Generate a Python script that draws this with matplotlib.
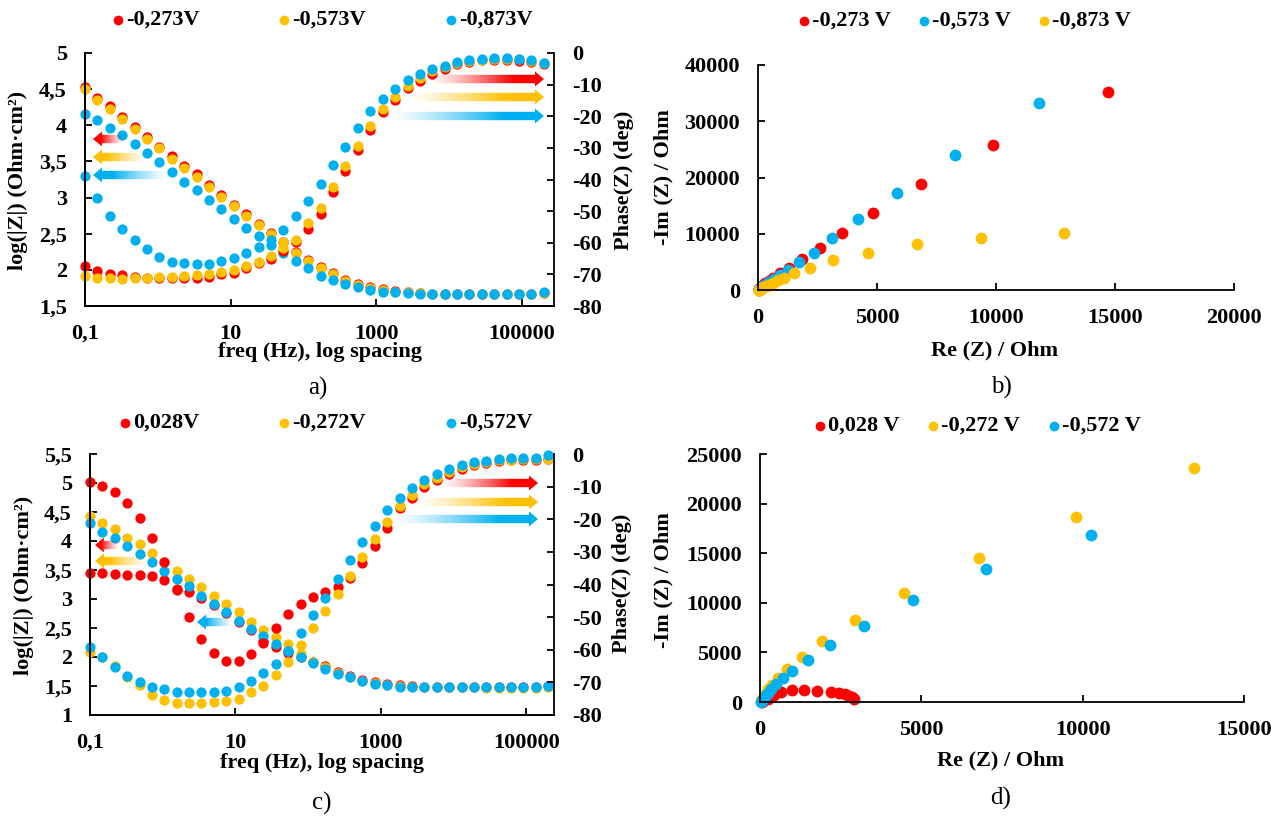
import numpy as np
import matplotlib
matplotlib.use('Agg')
import matplotlib.pyplot as plt
from matplotlib.patches import Polygon
from matplotlib.colors import to_rgb
from matplotlib.ticker import FuncFormatter, NullLocator

plt.rcParams['font.family'] = ['Liberation Serif', 'DejaVu Serif']
plt.rcParams['font.weight'] = 'bold'
plt.rcParams['axes.unicode_minus'] = False
plt.rcParams['axes.linewidth'] = 1.3

W, H = 1274, 819
RED, GOLD, BLUE = '#FF0000', '#FFC000', '#00B0F0'

# ---- data ----
freq = [0.1, 0.148, 0.219, 0.324, 0.480, 0.710, 1.05, 1.56, 2.30, 3.41, 5.05, 7.47,
        11.1, 16.4, 24.2, 35.9, 53.1, 78.6, 116, 172, 255, 377, 558, 826, 1220, 1810,
        2680, 3970, 5870, 8690, 12900, 19000, 28200, 41700, 61700, 91300, 135000, 200000]
freq_ticks = [0.1, 10, 1000, 100000]
freq_tick_text = ['0,1', '10', '1000', '100000']

# panel a
labels_a = ['-0,273V', '-0,573V', '-0,873V']
logz_a_273 = [4.53, 4.38, 4.26, 4.12, 3.97, 3.84, 3.70, 3.57, 3.44, 3.32, 3.18, 3.04, 2.90,
              2.77, 2.64, 2.51, 2.39, 2.25, 2.13, 2.04, 1.95, 1.86, 1.80, 1.76, 1.73, 1.71,
              1.69, 1.68, 1.67, 1.67, 1.66, 1.66, 1.66, 1.66, 1.66, 1.66, 1.67, 1.68]
logz_a_573 = [4.50, 4.35, 4.23, 4.09, 3.95, 3.81, 3.68, 3.54, 3.41, 3.29, 3.15, 3.01, 2.88,
              2.75, 2.62, 2.50, 2.38, 2.23, 2.12, 2.03, 1.94, 1.85, 1.79, 1.75, 1.72, 1.70,
              1.69, 1.68, 1.67, 1.66, 1.66, 1.66, 1.66, 1.66, 1.66, 1.66, 1.67, 1.68]
logz_a_873 = [4.16, 4.07, 3.96, 3.86, 3.74, 3.61, 3.49, 3.36, 3.22, 3.10, 2.97, 2.84, 2.71,
              2.58, 2.47, 2.35, 2.24, 2.12, 2.02, 1.92, 1.86, 1.80, 1.76, 1.72, 1.70, 1.69,
              1.68, 1.67, 1.67, 1.67, 1.66, 1.66, 1.66, 1.66, 1.66, 1.66, 1.67, 1.69]
phase_a_273 = [-67.2, -68.8, -69.9, -70.2, -70.9, -71.1, -71.1, -71.1, -71.1, -71.2, -70.9,
               -69.9, -69.5, -67.9, -66.5, -65.2, -62.5, -59.8, -55.5, -50.8, -44.0, -37.4,
               -30.8, -24.2, -18.8, -14.8, -11.2, -8.8, -6.6, -5.2, -3.6, -2.8, -2.3, -2.1,
               -2.1, -2.5, -2.9, -3.4]
phase_a_573 = [-70.4, -71.1, -71.2, -71.5, -71.1, -71.1, -70.9, -70.9, -70.6, -70.3, -69.9,
               -69.3, -68.6, -67.4, -66.1, -64.2, -61.8, -59.2, -53.8, -49.0, -42.3, -35.8,
               -29.4, -23.0, -17.6, -13.8, -10.3, -7.9, -5.8, -4.5, -3.3, -2.6, -2.1, -1.9,
               -1.9, -2.0, -2.5, -3.3]
phase_a_873 = [-38.9, -45.7, -51.4, -55.8, -59.2, -61.9, -64.5, -66.1, -66.5, -66.7, -66.7,
               -65.8, -64.9, -63.3, -61.5, -59.0, -56.0, -51.6, -46.9, -41.4, -35.3, -29.6,
               -23.8, -18.3, -14.6, -11.4, -8.4, -6.5, -5.0, -4.0, -3.0, -2.3, -1.9, -1.7,
               -1.7, -1.8, -2.3, -3.3]

# panel c
labels_c = ['0,028V', '-0,272V', '-0,572V']
logz_c_028 = [3.44, 3.44, 3.43, 3.42, 3.41, 3.40, 3.32, 3.17, 3.12, 3.02, 2.90, 2.76, 2.61,
              2.46, 2.28, 2.17, 2.07, 2.00, 1.92, 1.84, 1.75, 1.68, 1.61, 1.57, 1.53, 1.51,
              1.50, 1.49, 1.48, 1.48, 1.48, 1.48, 1.48, 1.48, 1.48, 1.48, 1.48, 1.50]
logz_c_272 = [4.43, 4.31, 4.20, 4.06, 3.94, 3.79, 3.64, 3.49, 3.35, 3.20, 3.06, 2.91, 2.77,
              2.61, 2.47, 2.35, 2.22, 2.05, 1.92, 1.82, 1.72, 1.66, 1.59, 1.55, 1.52, 1.50,
              1.49, 1.48, 1.48, 1.48, 1.48, 1.48, 1.47, 1.47, 1.47, 1.47, 1.47, 1.49]
logz_c_572 = [4.31, 4.16, 4.05, 3.91, 3.77, 3.64, 3.49, 3.35, 3.22, 3.06, 2.92, 2.77, 2.62,
              2.49, 2.37, 2.23, 2.10, 2.00, 1.89, 1.80, 1.71, 1.65, 1.58, 1.54, 1.51, 1.49,
              1.48, 1.48, 1.48, 1.48, 1.48, 1.48, 1.48, 1.48, 1.48, 1.48, 1.48, 1.50]
phase_c_028 = [-8.7, -9.7, -11.8, -15.0, -19.5, -25.7, -33.0, -41.6, -50.0, -56.7, -61.0,
               -63.5, -63.5, -61.4, -57.8, -53.4, -49.1, -46.0, -43.9, -42.4, -40.8, -37.9,
               -33.3, -28.1, -22.6, -16.7, -13.6, -10.0, -8.0, -6.0, -4.6, -3.5, -2.7, -2.1,
               -1.8, -1.7, -1.7, -1.4]
phase_c_272 = [-60.6, -62.2, -65.1, -68.4, -70.8, -73.9, -75.4, -76.4, -76.4, -76.4, -75.9,
               -75.7, -75.0, -73.1, -71.1, -67.7, -63.8, -58.6, -53.4, -48.1, -42.9, -37.4,
               -31.7, -26.0, -20.9, -16.0, -12.6, -9.2, -7.4, -5.4, -4.1, -3.1, -2.4, -1.9,
               -1.7, -1.6, -1.6, -1.6]
phase_c_572 = [-59.2, -62.2, -65.3, -68.1, -69.8, -71.5, -72.0, -72.9, -72.9, -72.9, -72.9,
               -72.6, -71.5, -69.5, -67.2, -64.3, -60.5, -55.0, -49.5, -44.1, -38.2, -32.5,
               -27.1, -22.2, -17.3, -13.6, -10.5, -8.0, -6.1, -4.7, -3.5, -2.6, -2.0, -1.5,
               -1.3, -1.2, -1.2, -0.3]

# panel b (Nyquist)
labels_b = ['-0,273 V', '-0,573 V', '-0,873 V']
re_b_273 = [14700, 9880, 6850, 4840, 3540, 2610, 1860, 1290, 930, 650, 450, 310, 210, 140,
            95, 70, 55, 48, 45]
im_b_273 = [35200, 25800, 18900, 13700, 10100, 7500, 5450, 3980, 2940, 2200, 1620, 1170,
            830, 570, 380, 240, 150, 90, 50]
re_b_573 = [11800, 8260, 5840, 4220, 3120, 2340, 1740, 1270, 920, 660, 470, 330, 230, 160,
            110, 80, 60, 50, 45]
im_b_573 = [33200, 24000, 17200, 12600, 9200, 6600, 4950, 3600, 2700, 1980, 1440, 1030,
            720, 500, 330, 210, 130, 75, 40]
re_b_873 = [12840, 9370, 6670, 4620, 3150, 2190, 1500, 1100, 820, 620, 450, 320, 230, 160,
            110, 80, 60, 50, 45]
im_b_873 = [10180, 9240, 8120, 6650, 5250, 3860, 2940, 2200, 1700, 1300, 950, 680, 480,
            330, 220, 140, 85, 50, 25]

# panel d (Nyquist)
labels_d = ['0,028 V', '-0,272 V', '-0,572 V']
re_d_028 = [60, 100, 250, 420, 650, 980, 1370, 1770, 2200, 2440, 2620, 2760, 2860, 2900]
im_d_028 = [30, 80, 350, 700, 1050, 1180, 1200, 1120, 1000, 880, 780, 640, 480, 350]
re_d_272 = [13460, 9800, 6780, 4470, 2930, 1930, 1290, 840, 560, 380, 260, 180, 120, 85,
            60, 50, 45, 42]
im_d_272 = [23590, 18630, 14490, 10980, 8280, 6110, 4530, 3300, 2400, 1750, 1270, 900,
            630, 430, 280, 170, 100, 50]
re_d_572 = [10250, 7000, 4740, 3210, 2180, 1480, 990, 700, 500, 350, 240, 165, 110, 80,
            60, 50, 45]
im_d_572 = [16850, 13380, 10330, 7680, 5740, 4250, 3150, 2380, 1780, 1300, 930, 650, 440,
            290, 180, 100, 50]

fig = plt.figure(figsize=(W / 100, H / 100), dpi=100)
# overlay in pixel coordinates for legends, labels and arrows
axo = fig.add_axes([0, 0, 1, 1], zorder=10)
axo.set_axis_off()


def rect(l, t, r, b):
    return [l / W, 1 - b / H, (r - l) / W, (b - t) / H]


def comma(v, pos):
    return ('%g' % v).replace('.', ',')


def style(ax):
    ax.spines['top'].set_visible(False)
    ax.tick_params(direction='in', length=5, width=1.3, labelsize=16, pad=13)


def bode(box, xmax, lz, ph, colors, ylo, yhi):
    ax = fig.add_axes(rect(*box))
    ax2 = ax.twinx()
    for z, c in zip(lz, colors):
        ax.plot(freq, z, 'o', ms=7.4, color=c, mec='none', clip_on=False)
    for p, c in zip(ph, colors):
        ax2.plot(freq, p, 'o', ms=7.4, color=c, mec='none', clip_on=False)
    ax.set_xscale('log')
    ax.set_xlim(0.1, xmax)
    ax.set_xticks(freq_ticks)
    ax.set_xticklabels(freq_tick_text)
    ax.xaxis.set_minor_locator(NullLocator())
    ax.set_ylim(ylo, yhi)
    ax.set_yticks(np.arange(ylo, yhi + 0.01, 0.5))
    ax.yaxis.set_major_formatter(FuncFormatter(comma))
    ax2.set_ylim(-80, 0)
    ax2.set_yticks(range(-80, 1, 10))
    style(ax)
    style(ax2)
    ax.spines['right'].set_visible(False)
    return ax


def nyquist(box, series, colors, xmax, xstep, ymax, ystep):
    ax = fig.add_axes(rect(*box))
    for (re, im), c in zip(series, colors):
        ax.plot(re, im, 'o', ms=8.5, color=c, mec='none', clip_on=False)
    ax.set_xlim(0, xmax)
    ax.set_ylim(0, ymax)
    ax.set_xticks(range(0, xmax + 1, xstep))
    ax.set_yticks(range(0, ymax + 1, ystep))
    style(ax)
    ax.spines['right'].set_visible(False)
    return ax


def legend(xs, y, labels, colors):
    for x, lab, c in zip(xs, labels, colors):
        axo.plot(x, y, 'o', ms=7, color=c, mec='none')
        axo.text(x + 8, y, lab, fontsize=16, va='center', ha='left')


def grad_arrow(x_tail, x_tip, y, color, hb=4.2, hh=7.5, hl=9):
    d = 1 if x_tip > x_tail else -1
    xb = x_tip - d * hl
    pts = [(x_tail, y - hb), (xb, y - hb), (xb, y - hh), (x_tip, y),
           (xb, y + hh), (xb, y + hb), (x_tail, y + hb)]
    poly = Polygon(pts, closed=True, facecolor='none', edgecolor='none')
    axo.add_patch(poly)
    n = 256
    img = np.zeros((1, n, 4))
    img[0, :, :3] = to_rgb(color)
    img[0, :, 3] = np.clip(np.linspace(0, 1.35, n), 0, 1) ** 1.3
    if d < 0:
        img = img[:, ::-1]
    im = axo.imshow(img, extent=(min(x_tail, x_tip), max(x_tail, x_tip), y + hh, y - hh),
                    aspect='auto', interpolation='bilinear', zorder=5)
    im.set_clip_path(poly)


cols3 = [RED, GOLD, BLUE]

# a)
bode((85, 53, 554, 306), 2.75e5, [logz_a_273, logz_a_573, logz_a_873],
     [phase_a_273, phase_a_573, phase_a_873], cols3, 1.5, 5)
# c)
bode((90, 454, 554, 715), 2.4e5, [logz_c_028, logz_c_272, logz_c_572],
     [phase_c_028, phase_c_272, phase_c_572], cols3, 1, 5.5)
# b)
nyquist((758, 65, 1234, 290),
        [(re_b_273, im_b_273), (re_b_573, im_b_573), (re_b_873, im_b_873)],
        [RED, BLUE, GOLD], 20000, 5000, 40000, 10000)
# d)
nyquist((760, 454, 1244, 702),
        [(re_d_028, im_d_028), (re_d_272, im_d_272), (re_d_572, im_d_572)],
        [RED, GOLD, BLUE], 15000, 5000, 25000, 5000)

legend([118, 284, 451], 20, labels_a, cols3)
legend([804, 924, 1044], 21, labels_b, [RED, BLUE, GOLD])
legend([125, 284, 451], 423, labels_c, cols3)
legend([820, 933, 1054], 426, labels_d, cols3)

# arrows
grad_arrow(124, 93, 139, RED)
grad_arrow(147, 93, 157, GOLD)
grad_arrow(168, 93, 175, BLUE)
grad_arrow(427, 544, 79, RED)
grad_arrow(404, 544, 97, GOLD)
grad_arrow(390, 544, 116, BLUE)
grad_arrow(119, 95, 545, RED)
grad_arrow(148, 95, 561, GOLD)
grad_arrow(233, 197, 622, BLUE)
grad_arrow(440, 538, 483, RED)
grad_arrow(415, 538, 502, GOLD)
grad_arrow(392, 538, 519, BLUE)

# axis labels
lab = dict(fontsize=16, ha='center', va='center')
axo.text(18, 180, 'log(|Z|) (Ohm·cm²)', rotation=90, **lab)
axo.text(624, 180, 'Phase(Z) (deg)', rotation=90, **lab)
axo.text(320, 352, 'freq (Hz), log spacing', **lab)
axo.text(24, 585, 'log(|Z|) (Ohm·cm²)', rotation=90, **lab)
axo.text(622, 583, 'Phase(Z) (deg)', rotation=90, **lab)
axo.text(322, 763, 'freq (Hz), log spacing', **lab)
axo.text(663, 177, '-Im (Z) / Ohm', rotation=90, **lab)
axo.text(995, 350, 'Re (Z) / Ohm', **lab)
axo.text(663, 580, '-Im (Z) / Ohm', rotation=90, **lab)
axo.text(1001, 760, 'Re (Z) / Ohm', **lab)

pan = dict(fontsize=18, fontweight='normal', ha='center', va='center')
axo.text(318, 388, 'a)', **pan)
axo.text(1001, 387, 'b)', **pan)
axo.text(322, 803, 'c)', **pan)
axo.text(1001, 798, 'd)', **pan)

axo.set_xlim(0, W)
axo.set_ylim(H, 0)

fig.savefig('out.png', dpi=100)
